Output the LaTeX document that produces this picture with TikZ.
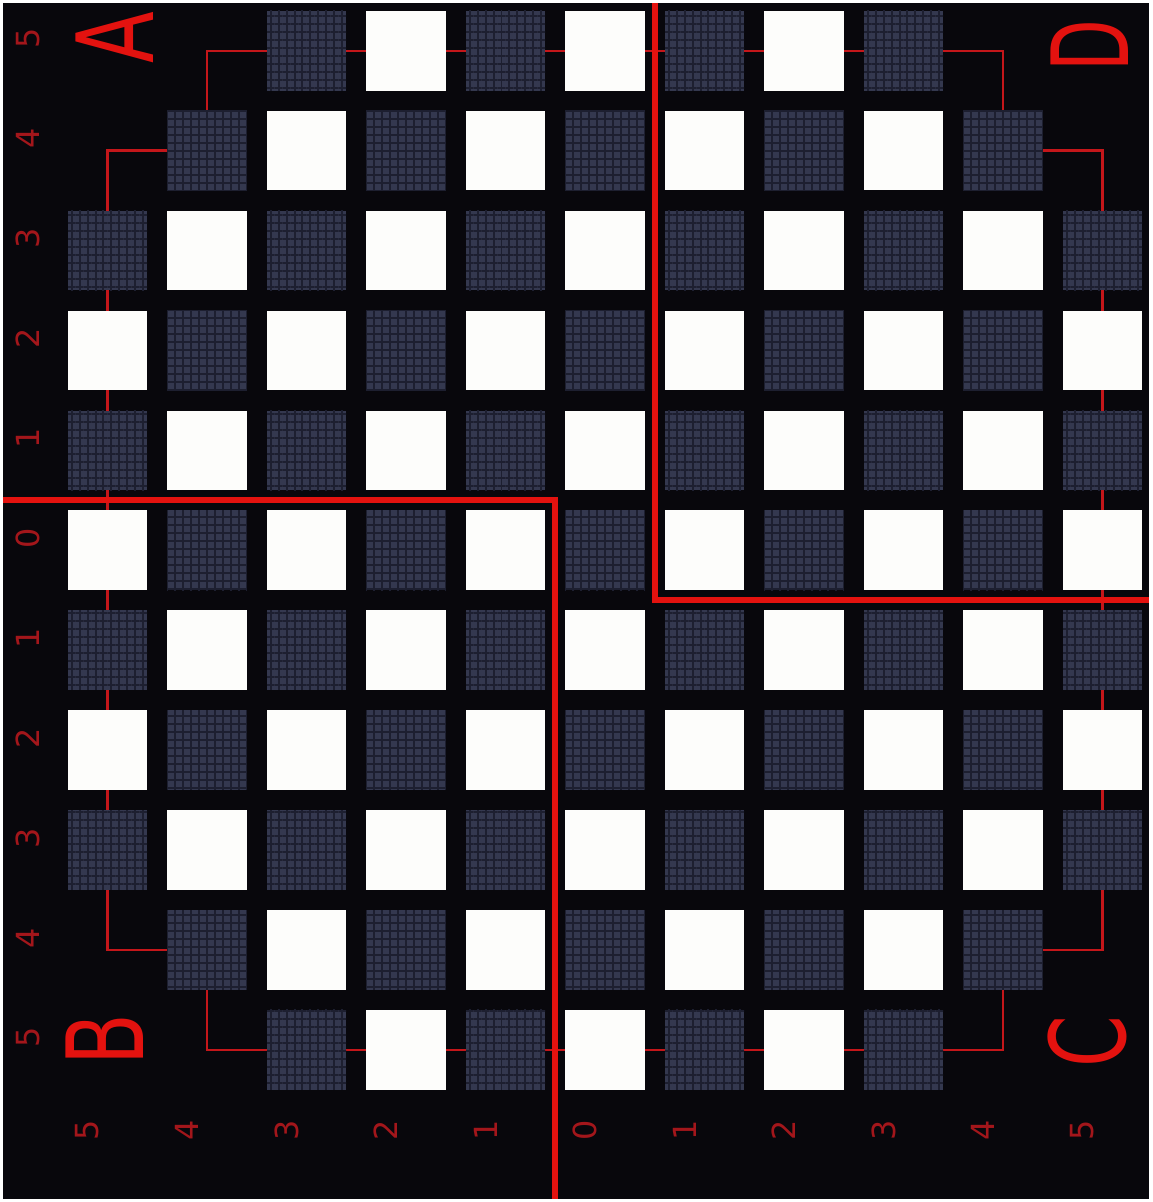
\documentclass[tikz,border=0pt]{standalone}
\usepackage{fontspec}
\setsansfont{DejaVu Sans}
\usepackage{graphicx}
\usetikzlibrary{patterns.meta}
\definecolor{boardbg}{HTML}{08070C}
\definecolor{padwhite}{HTML}{FDFDFB}
\definecolor{paddark}{HTML}{34384F}
\definecolor{padgrain}{HTML}{1D1F30}
\definecolor{cutred}{HTML}{E3120F}
\definecolor{tracered}{HTML}{C4161A}
\definecolor{numred}{HTML}{A3161B}

\begin{document}
\begin{tikzpicture}[x=1pt, y=-1pt,
    pad/.style = {minimum size=80pt, inner sep=0pt, outer sep=0pt},
    padlit/.style = {pad, fill=padwhite},
    paddim/.style = {pad, fill=paddark,
        postaction={pattern={Lines[angle=90,distance=8pt,line width=2pt]}, pattern color=padgrain},
        postaction={pattern={Lines[angle=0,distance=8pt,line width=2pt]}, pattern color=padgrain}},
    trace/.style = {draw=tracered, line width=2.5pt},
    cut/.style = {draw=cutred, line width=6pt},
    num/.style = {text=numred, font=\sffamily\fontsize{32}{32}\selectfont, rotate=90, inner sep=0pt},
    letter/.style = {text=cutred, font=\sffamily, rotate=90, inner sep=0pt}]

    \fill[boardbg] (0,0) rectangle (1152,1202);

    \foreach \r in {0,...,10}
        \foreach \c in {0,...,10}
            \coordinate (g\r-\c) at ({105+100*\c},{48+100.4*\r});

    \draw[trace] (g0-1) -- (g0-9) -- (g1-9) -- (g1-10) -- (g9-10) -- (g9-9) -- (g10-9)
        -- (g10-1) -- (g9-1) -- (g9-0) -- (g1-0) -- (g1-1) -- cycle;

    \foreach \r/\lo/\hi in {0/2/8,1/1/9,2/0/10,3/0/10,4/0/10,5/0/10,6/0/10,7/0/10,8/0/10,9/1/9,10/2/8}
        \foreach \c in {\lo,...,\hi} {
            \pgfmathtruncatemacro\padodd{mod(\r+\c,2)}
            \ifnum\padodd=1
                \node[padlit] (p\r-\c) at (g\r-\c) {};
            \else
                \node[paddim] (p\r-\c) at (g\r-\c) {};
            \fi
        }

    \draw[cut] (0,499.8) -| (555,1202);
    \draw[cut] (655,0) |- (1152,600.2);

    \foreach \r/\t in {0/5,1/4,2/3,3/2,4/1,5/0,6/1,7/2,8/3,9/4,10/5}
        \node[num] (ny\r) at (25,{36+100.4*\r}) {\t};
    \foreach \c/\t in {0/5,1/4,2/3,3/2,4/1,5/0,6/1,7/2,8/3,9/4,10/5}
        \node[num] (nx\c) at ({85+100*\c},1133) {\t};

    \node[letter] (A) at (112,35) {\resizebox{52pt}{78pt}{A}};
    \node[letter] (D) at (1092,43) {\resizebox{52pt}{78pt}{D}};
    \node[letter] (B) at (102,1042) {\resizebox{52pt}{78pt}{B}};
    \node[letter] (C) at (1090,1044) {\resizebox{52pt}{78pt}{C}};

\end{tikzpicture}
\end{document}
